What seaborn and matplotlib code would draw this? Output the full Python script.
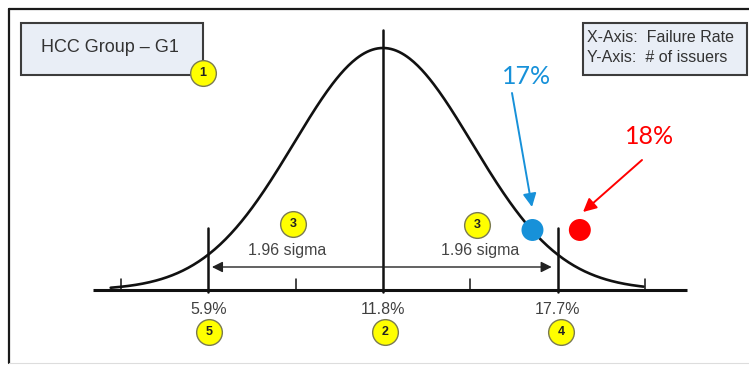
import numpy as np
import pandas as pd
import matplotlib
matplotlib.use('Agg')
import matplotlib.pyplot as plt
from matplotlib.patches import Rectangle
import seaborn as sns

# values
mean_rate = 11.8
sigma = 3.01
curve_start, curve_end = 2.6, 20.6
axis_start, axis_end = 2.0, 22.07
bound_rates = [5.9, 11.8, 17.7]
bound_labels = ['5.9%', '11.8%', '17.7%']
bound_badges = ['5', '2', '4']
minor_ticks = [2.95, 8.85, 14.75, 20.65]
issuer_rates = [16.85, 18.45]
issuer_heights = [0.248, 0.248]
issuer_labels = ['17%', '18%']
issuer_colors = ['#1791d9', '#ff0000']

sns.set_theme(style='white')
plt.rcParams['font.family'] = ['Liberation Sans', 'DejaVu Sans']

W, H = 749, 365
X0, PX_X = -1.139, 29.6   # data x at pixel 0, pixels per unit
Y_BASE, PX_Y = 290, 242    # baseline pixel row, pixels per unit


def px(xp, yp):
    # pixel position -> data position (layout helper for decorations)
    return X0 + xp / PX_X, (Y_BASE - yp) / PX_Y


def fx(xp, yp):
    return xp / W, 1 - yp / H


fig = plt.figure(figsize=(W / 100, H / 100), dpi=100)
ax = fig.add_axes([0, 0, 1, 1])
ax.set_xlim(X0, X0 + W / PX_X)
ax.set_ylim((Y_BASE - H) / PX_Y, Y_BASE / PX_Y)
ax.axis('off')

# outer frame
ax.plot([9 / W, 1], [1 - 9 / H] * 2, color='#1a1a1a', lw=1.6, transform=ax.transAxes)
ax.plot([9 / W] * 2, [1 - 9 / H, 1 - 363 / H], color='#1a1a1a', lw=1.6, transform=ax.transAxes)
ax.plot([9 / W, 1], [1 - 363 / H] * 2, color='#dddddd', lw=0.8, transform=ax.transAxes)

# bell curve
x = np.linspace(curve_start, curve_end, 400)
curve = pd.DataFrame({'rate': x, 'issuers': np.exp(-(x - mean_rate) ** 2 / (2 * sigma ** 2))})
sns.lineplot(data=curve, x='rate', y='issuers', color='#111111', lw=1.9, ax=ax)

# base axis and ticks
ax.plot([axis_start, axis_end], [0, 0], color='#111111', lw=2.2, solid_capstyle='butt')
for t in minor_ticks:
    ax.plot([t, t], [0, 0.045], color='#111111', lw=1.1)
tops = [0.256, 1.074, 0.256]
for r, top, lab in zip(bound_rates, tops, bound_labels):
    ax.plot([r, r], [-0.008, top], color='#111111', lw=1.8)
    ax.text(r, px(0, 309)[1], lab, ha='center', va='center', fontsize=11.5, color='#404040')

# 1.96 sigma arrows
ay = px(0, 267)[1]
ax.annotate('', xy=(bound_rates[0] + 0.12, ay), xytext=(mean_rate, ay),
            arrowprops=dict(arrowstyle='-|>', color='#222222', lw=1.0, mutation_scale=16, shrinkA=0, shrinkB=0))
ax.annotate('', xy=(bound_rates[2] - 0.2, ay), xytext=(mean_rate, ay),
            arrowprops=dict(arrowstyle='-|>', color='#222222', lw=1.0, mutation_scale=16, shrinkA=0, shrinkB=0))
ax.text(*px(287, 250), '1.96 sigma', ha='center', va='center', fontsize=11.5, color='#444444')
ax.text(*px(480, 250), '1.96 sigma', ha='center', va='center', fontsize=11.5, color='#444444')

# yellow numbered badges
badges = [((203, 73), '1'), ((293, 224), '3'), ((477, 225), '3'),
          ((209, 332), bound_badges[0]), ((385, 332), bound_badges[1]), ((561, 332), bound_badges[2])]
for (bx, by), num in badges:
    cx, cy = px(bx, by)
    ax.plot(cx, cy, 'o', ms=18.5, mfc='#ffff00', mec='#7a7a50', mew=1.0, zorder=5)
    ax.text(cx, cy, num, ha='center', va='center', fontsize=9, fontweight='bold', color='#222222', zorder=6)

# issuer points
pts = pd.DataFrame({'rate': issuer_rates, 'issuers': issuer_heights, 'label': issuer_labels})
sns.scatterplot(data=pts, x='rate', y='issuers', hue='label', palette=issuer_colors,
                s=250, edgecolor='none', legend=False, ax=ax, zorder=7)

# callout arrows and labels
ax.annotate('', xy=px(532, 207), xytext=px(512, 93),
            arrowprops=dict(arrowstyle='-|>', color=issuer_colors[0], lw=1.4, mutation_scale=20, shrinkA=0, shrinkB=0))
ax.annotate('', xy=px(583, 212), xytext=px(642, 160),
            arrowprops=dict(arrowstyle='-|>', color=issuer_colors[1], lw=1.4, mutation_scale=20, shrinkA=0, shrinkB=0))
ax.text(*px(527, 77), issuer_labels[0], ha='center', va='center', fontsize=18,
        color=issuer_colors[0], family=['Lato', 'DejaVu Sans'])
ax.text(*px(650, 137), issuer_labels[1], ha='center', va='center', fontsize=18,
        color=issuer_colors[1], family=['Lato', 'DejaVu Sans'])

# title box
ax.add_patch(Rectangle(fx(21, 75), 182 / W, 52 / H, transform=ax.transAxes,
                       facecolor='#e9eef6', edgecolor='#3c3c3c', lw=1.5, zorder=3))
ax.text(*fx(110, 48), 'HCC Group \u2013 G1', transform=ax.transAxes, ha='center', va='center',
        fontsize=13, color='#333333', zorder=4)

# axis legend box
ax.add_patch(Rectangle(fx(583, 75), 164 / W, 52 / H, transform=ax.transAxes,
                       facecolor='#e9eef6', edgecolor='#3c3c3c', lw=1.5, zorder=3))
ax.text(*fx(587, 37), 'X-Axis:  Failure Rate', transform=ax.transAxes, ha='left', va='center',
        fontsize=11.5, color='#333333', zorder=4)
ax.text(*fx(587, 58), 'Y-Axis:  # of issuers', transform=ax.transAxes, ha='left', va='center',
        fontsize=11.5, color='#333333', zorder=4)

fig.savefig('out.png', dpi=100, facecolor='white')
